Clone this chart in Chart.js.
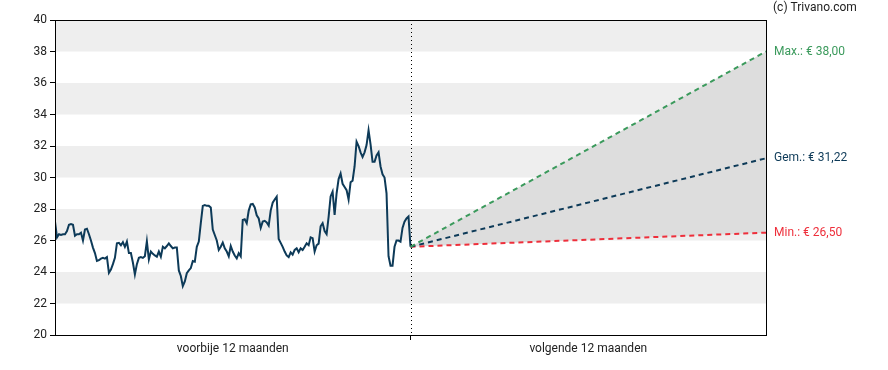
<!DOCTYPE html>
<html>
<head>
<meta charset="utf-8">
<script src="https://cdn.jsdelivr.net/npm/chart.js@4/dist/chart.umd.min.js"></script>
<style>
  html, body { margin: 0; padding: 0; background: #fff; }
  #wrap { width: 888px; height: 370px; }
</style>
</head>
<body>
<div id="wrap"><canvas id="koersChart"></canvas></div>
<script>
// Koers afgelopen 12 maanden (gelijk verdeeld)
const pastPrices = [
  27.2, 26.2, 26.4, 26.35, 26.4, 26.4, 26.6, 27.0, 27.05, 27.0,
  26.3, 26.4, 26.4, 26.5, 26.0, 26.7, 26.75, 26.4, 26.0, 25.55,
  25.2, 24.7, 24.75, 24.85, 24.9, 24.85, 24.95, 23.95, 24.15, 24.5,
  24.9, 25.82, 25.85, 25.7, 25.9, 25.6, 25.93, 25.2, 25.2, 24.6,
  23.85, 24.5, 24.9, 24.95, 24.9, 25.0, 25.95, 24.8, 25.3, 25.15,
  25.05, 24.97, 25.3, 24.97, 25.6, 25.5, 25.65, 25.82, 25.65, 25.5,
  25.55, 25.55, 24.1, 23.75, 23.1, 23.4, 23.92, 24.1, 24.25, 24.7,
  24.66, 25.6, 25.93, 27.1, 28.2, 28.25, 28.2, 28.2, 28.1, 26.7,
  26.35, 26.0, 25.4, 25.6, 25.87, 25.5, 25.3, 25.0, 25.65, 25.3,
  25.05, 24.87, 25.2, 25.0, 27.3, 27.35, 27.1, 27.9, 28.3, 28.32,
  28.1, 27.6, 27.4, 26.8, 27.2, 27.25, 27.15, 26.95, 27.9, 28.4,
  28.6, 28.78, 26.1, 25.85, 25.6, 25.3, 25.05, 24.95, 25.25, 25.1,
  25.4, 25.5, 25.25, 25.5, 25.4, 25.6, 25.82, 25.7, 26.2, 26.15,
  25.3, 25.7, 25.8, 26.9, 27.1, 26.6, 26.4, 27.5, 28.8, 29.1,
  27.62, 29.0, 29.9, 30.25, 29.6, 29.4, 29.2, 28.6, 29.7, 29.8,
  30.7, 32.28, 32.0, 31.6, 31.3, 31.6, 32.06, 33.0, 32.1, 31.0,
  31.0, 31.4, 31.6, 30.7, 30.2, 30.0, 29.0, 25.0, 24.4, 24.4,
  25.6, 26.0, 26.0, 25.93, 26.8, 27.2, 27.4, 27.52, 25.6
];

// Koersdoelen over 12 maanden
const forecastMax = 38.00;
const forecastAvg = 31.22;
const forecastMin = 26.50;

const periodLabels = ['voorbije 12 maanden', 'volgende 12 maanden'];
const yTicks = [20, 22, 24, 26, 28, 30, 32, 34, 36, 38, 40];
const bandRanges = [[22, 24], [26, 28], [30, 32], [34, 36], [38, 40]];

const nowIdx = pastPrices.length - 1;
const endIdx = nowIdx * 2;
const lastPrice = pastPrices[nowIdx];

const colPrice = '#0d3a58';
const colMax = '#3b9a5c';
const colMin = '#ee2f3b';

function forecastLine(target) {
    return [{ x: nowIdx, y: lastPrice }, { x: endIdx, y: target }];
}

// Achtergrondbanden, kader, scheidingslijn en labels
const decorPlugin = {
    id: 'decor',
    beforeDraw(chart) {
        const { ctx, chartArea: a, scales: { y } } = chart;
        ctx.save();
        ctx.fillStyle = '#eeeeee';
        bandRanges.forEach(r => {
            const top = y.getPixelForValue(r[1]);
            const bot = y.getPixelForValue(r[0]);
            ctx.fillRect(a.left, top, a.right - a.left, bot - top);
        });
        ctx.restore();
    },
    afterDatasetsDraw(chart) {
        const { ctx, chartArea: a, scales: { x, y } } = chart;
        ctx.save();
        // stippellijn "nu"
        const xn = Math.round(x.getPixelForValue(nowIdx)) + 0.5;
        ctx.strokeStyle = '#000';
        ctx.lineWidth = 1;
        ctx.setLineDash([1, 3]);
        ctx.beginPath();
        ctx.moveTo(xn, a.top);
        ctx.lineTo(xn, a.bottom);
        ctx.stroke();
        ctx.setLineDash([]);
        // kader
        ctx.strokeRect(Math.round(a.left) + 0.5, Math.round(a.top) + 0.5,
            Math.round(a.right - a.left), Math.round(a.bottom - a.top));
        // labels rechts
        ctx.font = '12px Roboto';
        ctx.textBaseline = 'middle';
        ctx.textAlign = 'left';
        const lx = a.right + 8;
        const fmt = v => '€ ' + v.toFixed(2).replace('.', ',');
        ctx.fillStyle = colMax;
        ctx.fillText('Max.: ' + fmt(forecastMax), lx, y.getPixelForValue(forecastMax));
        ctx.fillStyle = colPrice;
        ctx.fillText('Gem.: ' + fmt(forecastAvg), lx, y.getPixelForValue(forecastAvg));
        ctx.fillStyle = colMin;
        ctx.fillText('Min.: ' + fmt(forecastMin), lx, y.getPixelForValue(forecastMin));
        ctx.fillStyle = '#222';
        ctx.fillText('(c) Trivano.com', a.right + 7, 8);
        ctx.restore();
    }
};

Chart.defaults.font.family = 'Roboto';
Chart.defaults.font.size = 12;
Chart.defaults.color = '#222';

new Chart(document.getElementById('koersChart'), {
    type: 'line',
    data: {
        datasets: [
            {
                label: 'Max',
                data: forecastLine(forecastMax),
                borderColor: colMax,
                borderWidth: 2,
                borderDash: [5, 4],
                backgroundColor: '#dddddd',
                fill: { target: 2 },
                pointRadius: 0
            },
            {
                label: 'Gem',
                data: forecastLine(forecastAvg),
                borderColor: colPrice,
                borderWidth: 2,
                borderDash: [5, 4],
                fill: false,
                pointRadius: 0
            },
            {
                label: 'Min',
                data: forecastLine(forecastMin),
                borderColor: colMin,
                borderWidth: 2,
                borderDash: [5, 4],
                fill: false,
                pointRadius: 0
            },
            {
                label: 'Koers',
                data: pastPrices.map((v, i) => ({ x: i, y: v })),
                borderColor: colPrice,
                borderWidth: 2,
                fill: false,
                pointRadius: 0,
                tension: 0
            }
        ]
    },
    options: {
        responsive: true,
        maintainAspectRatio: false,
        animation: false,
        layout: { padding: { top: 20, right: 122, left: 0, bottom: 0 } },
        plugins: {
            legend: { display: false },
            tooltip: { enabled: false },
            filler: { drawTime: 'beforeDatasetsDraw' }
        },
        scales: {
            x: {
                type: 'linear',
                min: 0,
                max: endIdx,
                border: { display: false },
                grid: {
                    drawOnChartArea: false,
                    tickLength: 5,
                    color: c => (c.tick && c.tick.value === nowIdx) ? '#000' : 'rgba(0,0,0,0)'
                },
                afterBuildTicks: s => {
                    s.ticks = [{ value: nowIdx / 2 }, { value: nowIdx }, { value: nowIdx * 1.5 }];
                },
                ticks: {
                    padding: 2,
                    maxRotation: 0,
                    autoSkip: false,
                    callback: v => v === nowIdx / 2 ? periodLabels[0] : (v === nowIdx * 1.5 ? periodLabels[1] : '')
                },
                afterFit: s => { s.height = 35; }
            },
            y: {
                min: 20,
                max: 40,
                border: { display: false },
                grid: {
                    drawOnChartArea: false,
                    tickLength: 5,
                    color: '#000'
                },
                afterBuildTicks: s => { s.ticks = yTicks.map(v => ({ value: v })); },
                ticks: { padding: 3 },
                afterFit: s => { s.width = 55; }
            }
        }
    },
    plugins: [decorPlugin]
});
</script>
</body>
</html>
